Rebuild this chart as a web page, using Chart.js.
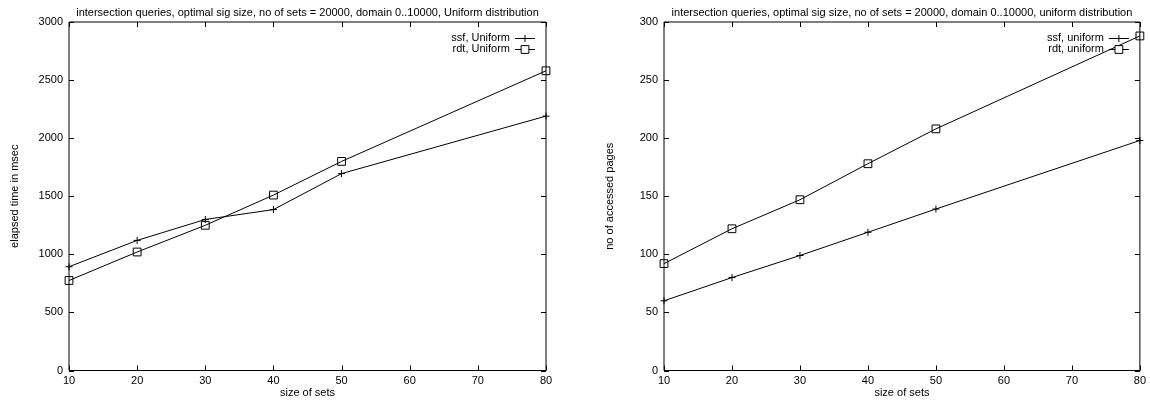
<!DOCTYPE html>
<html>
<head>
<meta charset="utf-8">
<script src="https://cdn.jsdelivr.net/npm/chart.js@4.4.1/dist/chart.umd.min.js"></script>
<style>
body{margin:0;background:#fff;}
.panel{position:absolute;top:0;width:575px;height:401px;}
</style>
</head>
<body>
<div class="panel" style="left:0"><canvas id="timeChart" width="575" height="401"></canvas></div>
<div class="panel" style="left:575px"><canvas id="pagesChart" width="575" height="401"></canvas></div>
<script>
// measured runs: set size vs. elapsed time / accessed pages
const setSizes = [10, 20, 30, 40, 50, 80];
const ssfTime = [893, 1120, 1300, 1385, 1695, 2190];
const rdtTime = [775, 1020, 1250, 1510, 1800, 2580];
const ssfPages = [60, 80, 99, 119, 139, 198];
const rdtPages = [92, 122, 147, 178, 208, 288];

const sizeTicks = [10, 20, 30, 40, 50, 60, 70, 80];
const timeTicks = [0, 500, 1000, 1500, 2000, 2500, 3000];
const pageTicks = [0, 50, 100, 150, 200, 250, 300];

Chart.defaults.font.family = "'Liberation Sans', Arial, sans-serif";
Chart.defaults.font.size = 11;
Chart.defaults.color = "#000";

function points(ys){
return setSizes.map((x, i) => ({x: x, y: ys[i]}));
}

function series(label, ys, style){
return {
label: label,
data: points(ys),
borderColor: "#000",
borderWidth: 1,
pointStyle: style,
pointRadius: style === "rect" ? 5.5 : 3.5,
pointBorderWidth: 1,
pointBorderColor: "#000",
pointBackgroundColor: "rgba(0,0,0,0)",
tension: 0,
clip: false
};
}

// frame with inward ticks on all four sides, plus title and legend inside the plot
const gnuFrame = {
id: "gnuFrame",
beforeDatasetsDraw(chart){
const {ctx, chartArea: a, scales: {x, y}} = chart;
const len = 5;
ctx.save();
ctx.strokeStyle = "#000";
ctx.lineWidth = 1;
ctx.beginPath();
ctx.rect(a.left, a.top, a.right - a.left, a.bottom - a.top);
x.ticks.forEach(t => {
const px = Math.round(x.getPixelForValue(t.value)) + 0.5;
ctx.moveTo(px, a.bottom); ctx.lineTo(px, a.bottom - len);
ctx.moveTo(px, a.top); ctx.lineTo(px, a.top + len);
});
y.ticks.forEach(t => {
const py = Math.round(y.getPixelForValue(t.value)) + 0.5;
ctx.moveTo(a.left, py); ctx.lineTo(a.left + len, py);
ctx.moveTo(a.right, py); ctx.lineTo(a.right - len, py);
});
ctx.stroke();
ctx.restore();
},
afterDraw(chart, args, opts){
const {ctx, chartArea: a} = chart;
ctx.save();
ctx.fillStyle = "#000";
ctx.font = "11px 'Liberation Sans', Arial, sans-serif";
ctx.textBaseline = "middle";
ctx.textAlign = "center";
ctx.fillText(opts.title, (a.left + a.right) / 2, 13);

ctx.textAlign = "right";
chart.data.datasets.forEach((ds, i) => {
const ly = a.top + 16 + i * 10.5;
const my = Math.round(ly) + 0.5;
ctx.fillStyle = "#000";
ctx.fillText(ds.label, a.right - 36, ly);
ctx.strokeStyle = "#000";
ctx.lineWidth = 1;
ctx.beginPath();
ctx.moveTo(a.right - 31, my);
ctx.lineTo(a.right - 11, my);
ctx.stroke();
ctx.fillStyle = "#fff";
Chart.helpers.drawPoint(ctx, {
pointStyle: ds.pointStyle,
radius: ds.pointRadius,
borderWidth: 1,
rotation: 0
}, a.right - 21, my);
});
ctx.restore();
}
};

function makeChart(id, cfg){
return new Chart(document.getElementById(id), {
type: "line",
data: {datasets: cfg.datasets},
options: {
responsive: false,
animation: false,
layout: {padding: {top: 22, right: cfg.padRight, bottom: 0, left: 0}},
plugins: {
legend: {display: false},
tooltip: {enabled: false},
gnuFrame: {title: cfg.title}
},
scales: {
x: {
type: "linear",
min: 10,
max: 80,
afterBuildTicks: s => { s.ticks = sizeTicks.map(v => ({value: v})); },
afterFit: s => { s.height = 30.5; },
grid: {display: false, drawTicks: false},
border: {display: false},
ticks: {padding: 4, maxRotation: 0, callback: v => String(v)},
title: {display: true, text: "size of sets", padding: {top: 0, bottom: 1.5}}
},
y: {
min: 0,
max: cfg.yMax,
afterBuildTicks: s => { s.ticks = cfg.yTicks.map(v => ({value: v})); },
afterFit: s => { s.width = cfg.axisWidth; },
grid: {display: false, drawTicks: false},
border: {display: false},
ticks: {padding: 6, callback: v => String(v)},
title: {display: true, text: cfg.yTitle, padding: {top: cfg.yTitlePad, bottom: 0}}
}
}
},
plugins: [gnuFrame]
});
}

makeChart("timeChart", {
title: "intersection queries, optimal sig size, no of sets = 20000, domain 0..10000, Uniform distribution",
yTitle: "elapsed time in msec",
yMax: 3000,
yTicks: timeTicks,
axisWidth: 69,
padRight: 29,
yTitlePad: 8.5,
datasets: [
series("ssf, Uniform", ssfTime, "cross"),
series("rdt, Uniform", rdtTime, "rect")
]
});

makeChart("pagesChart", {
title: "intersection queries, optimal sig size, no of sets = 20000, domain 0..10000, uniform distribution",
yTitle: "no of accessed pages",
yMax: 300,
yTicks: pageTicks,
axisWidth: 89,
padRight: 9,
yTitlePad: 28.5,
datasets: [
series("ssf, uniform", ssfPages, "cross"),
series("rdt, uniform", rdtPages, "rect")
]
});
</script>
</body>
</html>
